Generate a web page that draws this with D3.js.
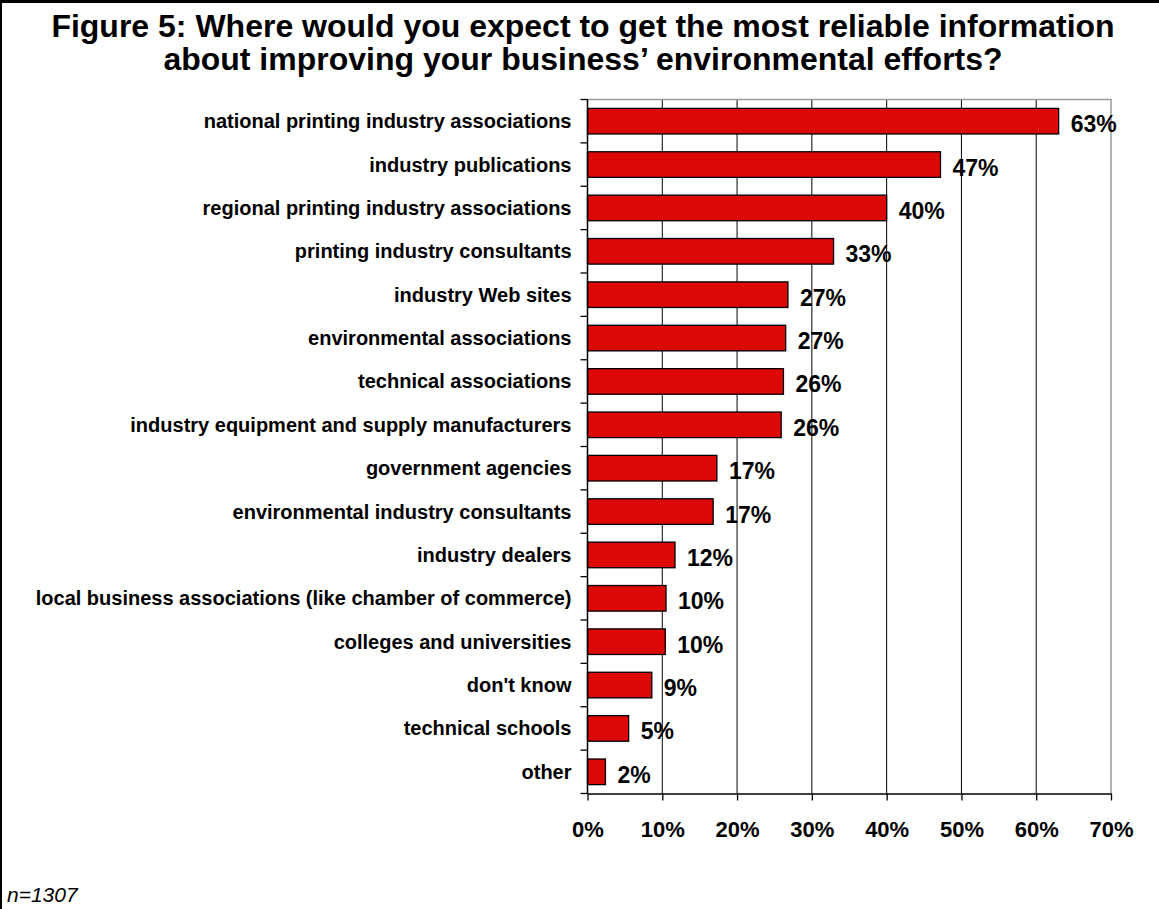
<!DOCTYPE html>
<html>
<head>
<meta charset="utf-8">
<script src="https://cdn.jsdelivr.net/npm/d3@7"></script>
<style>
  body { margin: 0; background: #fff; }
  svg { display: block; font-family: Arial, "Liberation Sans", sans-serif; }
</style>
</head>
<body>
<svg id="chart" width="1159" height="909"></svg>
<script>
const categories = [
  "national printing industry associations",
  "industry publications",
  "regional printing industry associations",
  "printing industry consultants",
  "industry Web sites",
  "environmental associations",
  "technical associations",
  "industry equipment and supply manufacturers",
  "government agencies",
  "environmental industry consultants",
  "industry dealers",
  "local business associations (like chamber of commerce)",
  "colleges and universities",
  "don't know",
  "technical schools",
  "other"
];
const values = [63.0, 47.2, 40.0, 32.9, 26.8, 26.5, 26.2, 25.9, 17.3, 16.8, 11.7, 10.5, 10.4, 8.6, 5.5, 2.4];
const valueLabels = ["63%", "47%", "40%", "33%", "27%", "27%", "26%", "26%", "17%", "17%", "12%", "10%", "10%", "9%", "5%", "2%"];
const xTicks = [0, 10, 20, 30, 40, 50, 60, 70];
const titleLines = [
  "Figure 5: Where would you expect to get the most reliable information",
  "about improving your business\u2019 environmental efforts?"
];
const footnote = "n=1307";

const data = categories.map((c, i) => ({ cat: c, value: values[i], label: valueLabels[i] }));

const svg = d3.select("#chart");
const margin = { top: 99.5, right: 48, bottom: 115.5, left: 587.5 };
const width = +svg.attr("width");
const height = +svg.attr("height");

const x = d3.scaleLinear()
  .domain([0, 70])
  .range([margin.left, width - margin.right]);

const y = d3.scaleBand()
  .domain(categories)
  .range([margin.top, height - margin.bottom])
  .paddingInner(0.41)
  .paddingOuter(0.205);

// outer frame (only top and left visible)
svg.append("line").attr("x1", 1).attr("x2", width).attr("y1", 1.5).attr("y2", 1.5)
  .attr("stroke", "#000").attr("stroke-width", 3);
svg.append("line").attr("x1", 1).attr("x2", 1).attr("y1", 0).attr("y2", height)
  .attr("stroke", "#000").attr("stroke-width", 2);

// title
svg.append("g").selectAll("text")
  .data(titleLines)
  .join("text")
  .attr("x", 583)
  .attr("y", (d, i) => 37 + i * 33)
  .attr("text-anchor", "middle")
  .attr("font-size", 32)
  .attr("font-weight", "bold")
  .text(d => d);

// gridlines
svg.append("g")
  .selectAll("line")
  .data(xTicks.slice(1, -1))
  .join("line")
  .attr("x1", d => x(d)).attr("x2", d => x(d))
  .attr("y1", margin.top).attr("y2", height - margin.bottom)
  .attr("stroke", "#000").attr("stroke-width", 1);

// plot border (top + right, gray)
svg.append("path")
  .attr("d", `M${x(0)},${margin.top}H${x(70)}V${height - margin.bottom}`)
  .attr("fill", "none").attr("stroke", "#999").attr("stroke-width", 1.5);

// bars
svg.append("g")
  .selectAll("rect")
  .data(data)
  .join("rect")
  .attr("x", x(0))
  .attr("y", d => y(d.cat))
  .attr("width", d => x(d.value) - x(0))
  .attr("height", y.bandwidth())
  .attr("fill", "#dc0806")
  .attr("stroke", "#000")
  .attr("stroke-width", 1.3);

// value labels
svg.append("g")
  .selectAll("text")
  .data(data)
  .join("text")
  .attr("x", d => x(d.value) + 12)
  .attr("y", d => y(d.cat) + y.bandwidth() / 2 + 3)
  .attr("dy", "0.35em")
  .attr("font-size", 23)
  .attr("font-weight", "bold")
  .text(d => d.label);

// x axis
const xAxis = svg.append("g")
  .attr("transform", `translate(0,${height - margin.bottom})`)
  .call(d3.axisBottom(x).tickValues(xTicks).tickFormat(d => d + "%").tickSizeInner(7).tickSizeOuter(0).tickPadding(21));
xAxis.select(".domain").attr("stroke", "#000").attr("stroke-width", 1.5);
xAxis.selectAll(".tick line").attr("stroke", "#000").attr("stroke-width", 1.3);
xAxis.selectAll("text")
  .attr("font-size", 22)
  .attr("font-weight", "bold")
  .attr("font-family", "Arial, 'Liberation Sans', sans-serif")
  .attr("fill", "#000");

// y axis with ticks at band boundaries
const yAxisG = svg.append("g");
yAxisG.append("line")
  .attr("x1", x(0)).attr("x2", x(0))
  .attr("y1", margin.top).attr("y2", height - margin.bottom)
  .attr("stroke", "#000").attr("stroke-width", 1.5);
const step = y.step();
const boundaries = d3.range(categories.length + 1).map(i => margin.top + i * step);
yAxisG.selectAll(".yt")
  .data(boundaries)
  .join("line")
  .attr("class", "yt")
  .attr("x1", x(0) - 7).attr("x2", x(0))
  .attr("y1", d => d).attr("y2", d => d)
  .attr("stroke", "#000").attr("stroke-width", 1.3);

yAxisG.selectAll("text")
  .data(categories)
  .join("text")
  .attr("x", x(0) - 16)
  .attr("y", d => y(d) + y.bandwidth() / 2)
  .attr("dy", "0.35em")
  .attr("text-anchor", "end")
  .attr("font-size", 20)
  .attr("font-weight", "bold")
  .text(d => d);

// footnote
svg.append("text")
  .attr("x", 7)
  .attr("y", 902)
  .attr("font-size", 21)
  .attr("font-style", "italic")
  .text(footnote);
</script>
</body>
</html>
